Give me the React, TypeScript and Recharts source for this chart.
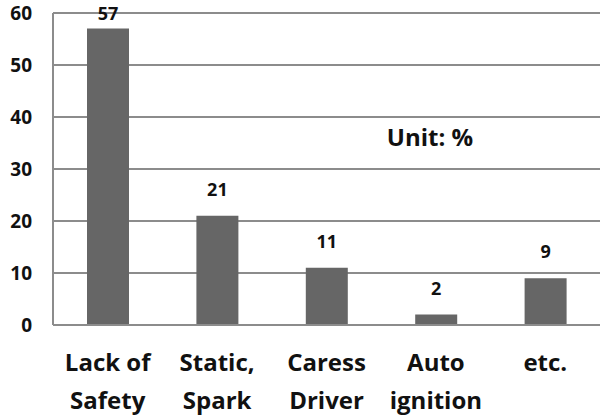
import { BarChart, Bar, XAxis, YAxis, CartesianGrid, LabelList } from 'recharts'

const categories = ['Lack of\nSafety', 'Static,\nSpark', 'Caress\nDriver', 'Auto\nignition', 'etc.']
const values = [57, 21, 11, 2, 9]
const yTicks = [0, 10, 20, 30, 40, 50, 60]

const data = categories.map((name, i) => ({ name, value: values[i] }))

const FONT = '"Open Sans", sans-serif'
const GRID = '#8c8c8c'

const CategoryTick = ({ x, payload }: any) => {
  const lines = String(payload.value).split('\n')
  return (
    <g>
      {lines.map((line, i) => (
        <text
          key={i}
          x={x}
          y={371 + i * 38}
          textAnchor="middle"
          fontFamily={FONT}
          fontWeight="bold"
          fontSize={24}
          fill="#111"
        >
          {line}
        </text>
      ))}
    </g>
  )
}

const ValueLabel = ({ x, y, width, value }: any) => (
  <text
    x={x + width / 2}
    y={Math.max(y - 20, 20)}
    textAnchor="middle"
    fontFamily={FONT}
    fontWeight="bold"
    fontSize={18}
    fill="#111"
  >
    {value}
  </text>
)

export default function App() {
  return (
    <div style={{ position: 'fixed', left: 0, top: 0, background: '#fff' }}>
      <BarChart width={605} height={417} data={data} margin={{ top: 13, right: 5, left: 0, bottom: 0 }}>
        <CartesianGrid vertical={false} stroke={GRID} strokeWidth={2} />
        <XAxis
          dataKey="name"
          axisLine={{ stroke: GRID, strokeWidth: 2 }}
          tickLine={false}
          height={92}
          interval={0}
          tick={<CategoryTick />}
        />
        <YAxis
          domain={[0, 60]}
          ticks={yTicks}
          width={53}
          axisLine={{ stroke: GRID, strokeWidth: 2 }}
          tickLine={false}
          tick={{ fontFamily: FONT, fontWeight: 'bold', fontSize: 19, fill: '#111' }}
          tickMargin={15}
        />
        <Bar dataKey="value" fill="#666666" barSize={42} isAnimationActive={false}>
          <LabelList dataKey="value" content={<ValueLabel />} />
        </Bar>
        <text x={430} y={146} textAnchor="middle" fontFamily={FONT} fontWeight="bold" fontSize={24} fill="#111">
          Unit: %
        </text>
      </BarChart>
    </div>
  )
}
